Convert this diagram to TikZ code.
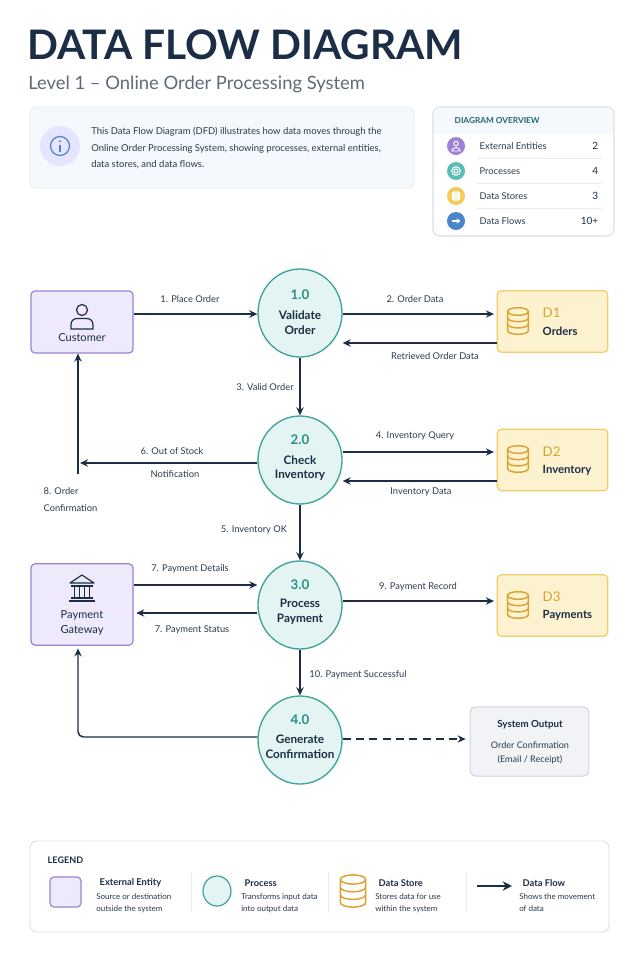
\documentclass[tikz,border=0pt]{standalone}
\usepackage{fontspec}
\setmainfont{Lato}
\usetikzlibrary{arrows.meta,calc,shapes.geometric}
\definecolor{navy}{HTML}{1B2E45}
\definecolor{txt}{HTML}{2B3A4D}
\definecolor{sub}{HTML}{5F6B78}
\definecolor{tealB}{HTML}{3FA39A}
\definecolor{tealF}{HTML}{E3F4F2}
\definecolor{tealT}{HTML}{2A8F88}
\definecolor{purB}{HTML}{9C82D2}
\definecolor{purF}{HTML}{EFEAFB}
\definecolor{yelB}{HTML}{F0CD6A}
\definecolor{yelF}{HTML}{FDF2D0}
\definecolor{yelI}{HTML}{D9A42E}
\definecolor{grB}{HTML}{CFD6DE}
\definecolor{grF}{HTML}{F1F3F7}
\definecolor{infoF}{HTML}{F5F8FC}
\definecolor{infoB}{HTML}{E6ECF3}
\definecolor{blueI}{HTML}{4A84C9}
\definecolor{purI}{HTML}{9E82D6}
\definecolor{tealI}{HTML}{5BBDB3}
\definecolor{yelO}{HTML}{F3CB55}
\newcommand\dbicon[4]{% x y color scale
  \begin{scope}[shift={(#1,#2)},scale=#4]
  \draw[#3,line width=1.1pt] (-11,-10) -- (-11,10) arc[start angle=180,end angle=0,x radius=11,y radius=4] -- (11,-10);
  \draw[#3,line width=1.1pt] (0,-10) ellipse[x radius=11,y radius=4];
  \draw[#3,line width=1.1pt] (-11,-3.3) arc[start angle=180,end angle=0,x radius=11,y radius=4];
  \draw[#3,line width=1.1pt] (-11,3.3) arc[start angle=180,end angle=0,x radius=11,y radius=4];
  \end{scope}}
\begin{document}
\begin{tikzpicture}[x=0.75pt,y=-0.75pt,
  flow/.style={draw=navy,line width=1.1pt,-{Stealth[length=6pt,width=5.5pt]}},
  lab/.style={font=\fontsize{7}{8}\selectfont,text=txt,inner sep=1pt},
  ent/.style={draw=purB,fill=purF,line width=0.9pt,rounded corners=3pt,minimum width=76.5pt},
  proc/.style={ellipse,draw=tealB,fill=tealF,line width=1pt,minimum width=63pt,minimum height=66pt,inner sep=0pt},
  store/.style={draw=yelB,fill=yelF,line width=0.9pt,rounded corners=3pt,minimum width=83pt,minimum height=46pt},
  ptxt/.style={font=\bfseries\fontsize{8.8}{11}\selectfont,text=navy,align=center},
  pnum/.style={font=\bfseries\fontsize{10}{11}\selectfont,text=tealT},
  snum/.style={font=\fontsize{10}{11}\selectfont,text=yelI,anchor=west},
  sname/.style={font=\bfseries\fontsize{8.5}{10}\selectfont,text=navy,anchor=west},
  ovl/.style={font=\fontsize{7}{8}\selectfont,text=txt,anchor=west},
  ovn/.style={font=\fontsize{7.5}{8}\selectfont,text=navy,anchor=east},
  lgt/.style={font=\bfseries\fontsize{7}{8}\selectfont,text=navy,anchor=west},
  lgd/.style={font=\fontsize{6}{9}\selectfont,text=txt,anchor=north west,align=left,inner sep=0pt}
]
\useasboundingbox[fill=white] (0,0) rectangle (640,960);
% title
\node[anchor=base west,inner sep=0pt,font=\fontsize{30.5}{31}\selectfont\bfseries,text=navy] (title) at (27,59) {DATA FLOW DIAGRAM};
\node[anchor=base west,inner sep=0pt,font=\fontsize{13.8}{15}\selectfont,text=sub] (subt) at (28,89) {Level 1 – Online Order Processing System};
% info box
\draw[draw=infoB,fill=infoF,rounded corners=5pt,line width=0.6pt] (30,107) rectangle (414,188);
\fill[blue!10] (60,146) circle (20);
\draw[blueI,line width=0.9pt] (60,146) circle (9.5);
\fill[blueI] (60,141.3) circle (1.1);
\draw[blueI,line width=1.1pt] (60,144.5) -- (60,151.5);
\node[anchor=north west,inner sep=0pt,align=left,font=\fontsize{7.1}{12.3}\selectfont,text=txt] (info) at (91,127) {This Data Flow Diagram (DFD) illustrates how data moves through the\\Online Order Processing System, showing processes, external entities,\\data stores, and data flows.};
% overview
\draw[draw=grB!80,fill=white,rounded corners=5pt,line width=0.8pt] (433,107) rectangle (614,236);
\fill[infoF,rounded corners=5pt] (434,108) rectangle (613,134);
\fill[infoF] (434,125) rectangle (613,134);
\node[anchor=west,font=\bfseries\fontsize{6.2}{7}\selectfont,text=tealT!60!navy] (ovh) at (450,121) {DIAGRAM OVERVIEW};
\foreach \y in {158.5,183.5,208.5} \draw[infoB,line width=0.6pt] (477,\y) -- (602,\y);
\fill[purI] (456,146) circle (9);
\draw[white,line width=0.7pt] (456,143.5) circle (2.3) (452,151) .. controls (452,146.5) and (460,146.5) .. (460,151) -- cycle;
\fill[tealI] (456,171) circle (9);
\draw[white,line width=0.8pt] (456,171) circle (2) (456,171) circle (4.3);
\fill[yelO] (456,196) circle (9);
\dbicon{456}{196}{white}{0.3}
\fill[blueI] (456,221) circle (9);
\draw[white,line width=0.8pt,-{Stealth[length=3pt,width=4pt]}] (451.5,221) -- (460.5,221);
\node[ovl] at (475,146) {External Entities}; \node[ovn] at (603,146) {2};
\node[ovl] at (475,171) {Processes}; \node[ovn] at (603,171) {4};
\node[ovl] at (475,196) {Data Stores}; \node[ovn] at (603,196) {3};
\node[ovl] at (475,221) {Data Flows}; \node[ovn] at (603,221) {10+};
% entities
\node[ent,minimum height=46.5pt] (cust) at (82,322) {};
\draw[navy,line width=0.9pt] (82,310) circle (5.5) (71,329) -- (71,325) .. controls (71,320) and (74,318.5) .. (78,318.5) -- (86,318.5) .. controls (90,318.5) and (93,320) .. (93,325) -- (93,329) -- cycle;
\node[font=\fontsize{8.3}{10}\selectfont,text=navy] at (82,338) {Customer};
\node[ent,minimum height=61pt] (gate) at (82,604.5) {};
\begin{scope}[navy,line width=0.9pt]
\draw[line join=round] (70,583) -- (82,575) -- (94,583) -- cycle;
\draw (71,586) -- (93,586) (71,598) -- (93,598) (69,601) -- (95,601);
\draw (74.5,586) -- (74.5,598) (79.5,586) -- (79.5,598) (84.5,586) -- (84.5,598) (89.5,586) -- (89.5,598);
\end{scope}
\node[font=\fontsize{8.3}{11}\selectfont,text=navy,align=center] at (82,623) {Payment\\Gateway};
% processes
\node[proc] (p1) at (300,313) {}; \node[pnum] at (300,295) {1.0}; \node[ptxt] at (300,323) {Validate\\Order};
\node[proc] (p2) at (300,460) {}; \node[pnum] at (300,440) {2.0}; \node[ptxt] at (300,468) {Check\\Inventory};
\node[proc] (p3) at (300,605) {}; \node[pnum] at (300,585) {3.0}; \node[ptxt] at (300,612) {Process\\Payment};
\node[proc] (p4) at (300,740) {}; \node[pnum] at (300,720) {4.0}; \node[ptxt] at (300,747) {Generate\\Confirmation};
% stores
\node[store] (d1) at (552.5,321.5) {}; \dbicon{518}{321}{yelI}{0.95}
\node[snum] at (538,313) {D1}; \node[sname] at (538,331) {Orders};
\node[store] (d2) at (552.5,460) {}; \dbicon{518}{459}{yelI}{0.95}
\node[snum] at (538,452) {D2}; \node[sname] at (538,470) {Inventory};
\node[store] (d3) at (552.5,605.5) {}; \dbicon{518}{605}{yelI}{0.95}
\node[snum] at (538,597) {D3}; \node[sname] at (538,615) {Payments};
% system output
\node[draw=grB,fill=grF,line width=0.8pt,rounded corners=4pt,minimum width=89pt,minimum height=52pt] (sys) at (529.5,741.5) {};
\node[font=\bfseries\fontsize{7.3}{9}\selectfont,text=navy] at (530,725) {System Output};
\node[font=\fontsize{6.8}{10.5}\selectfont,text=txt,align=center] at (530,753) {Order Confirmation\\(Email / Receipt)};
% flows
\draw[flow] (cust.east |- 0,314) -- (p1.west |- 0,314);
\node[lab] at (190,299) {1. Place Order};
\draw[flow] (p1.east |- 0,314) -- ([xshift=-2pt]d1.west |- 0,314);
\node[lab] at (415,299) {2. Order Data};
\draw[flow] (d1.west |- 0,343) -- (p1.east |- 0,343);
\node[lab] at (435,356) {Retrieved Order Data};
\draw[flow] (p1.south) -- (p2.north);
\node[lab] at (265,387) {3. Valid Order};
\draw[flow] (p2.east |- 0,452) -- ([xshift=-2pt]d2.west |- 0,452);
\node[lab] at (415,436) {4. Inventory Query};
\draw[flow] (d2.west |- 0,481) -- (p2.east |- 0,481);
\node[lab] at (421,492) {Inventory Data};
\coordinate (c6) at (80,463);
\draw[flow] (p2.west |- 0,463) -- (c6);
\node[lab] at (172,451) {6. Out of Stock};
\node[lab] at (175,474) {Notification};
\coordinate (c8) at (78,474);
\draw[flow] (c8) -- (cust.south -| c8);
\node[lab,align=left,anchor=west,font=\fontsize{7}{12.5}\selectfont] at (42,499.5) {8. Order\\Confirmation};
\draw[flow] (p2.south) -- (p3.north);
\node[lab] at (254,530) {5. Inventory OK};
\draw[flow] (gate.east |- 0,585) -- (p3.west |- 0,585);
\node[lab] at (190,569) {7. Payment Details};
\draw[flow] (p3.west |- 0,613) -- ([xshift=2pt]gate.east |- 0,613);
\node[lab] at (192,630) {7. Payment Status};
\draw[flow] (p3.east |- 0,601) -- ([xshift=-2pt]d3.west |- 0,601);
\node[lab] at (418,587) {9. Payment Record};
\draw[flow] (p3.south) -- (p4.north);
\node[lab] at (358,675) {10. Payment Successful};
\draw[flow,rounded corners=4pt] (p4.west |- 0,737) -- (78,737) -- ([yshift=-2pt]gate.south -| 78,0);
\draw[flow,dashed,dash pattern=on 6pt off 4pt] (p4.east |- 0,739) -- ([xshift=-3pt]sys.west |- 0,739);
% legend
\draw[draw=grB!80,fill=white,rounded corners=5pt,line width=0.7pt] (30,841) rectangle (609,932);
\node[anchor=west,font=\bfseries\fontsize{6.8}{8}\selectfont,text=navy] (lg) at (43,860) {LEGEND};
\foreach \x in {191,328,466} \draw[infoB,line width=0.6pt] (\x,872) -- (\x,912);
\draw[purB,fill=purF,line width=0.9pt,rounded corners=3pt] (50,877) rectangle (81,907);
\node[lgt] at (95,883) {External Entity};
\node[lgd] at (96,893) {Source or destination\\outside the system};
\draw[tealB,fill=tealF,line width=0.9pt] (217,891) ellipse[x radius=14,y radius=15];
\node[lgt] at (240,883) {Process};
\node[lgd] at (241,893) {Transforms input data\\into output data};
\dbicon{353}{891}{yelI}{1.15}
\node[lgt] at (374,883) {Data Store};
\node[lgd] at (375,893) {Stores data for use\\within the system};
\coordinate (la) at (477,886); \coordinate (lb) at (512,886);
\draw[navy,line width=1.6pt,-{Stealth[length=7pt,width=7pt]}] (la) -- (lb);
\node[lgt] at (518,883) {Data Flow};
\node[lgd] at (519,893) {Shows the movement\\of data};
\end{tikzpicture}
\end{document}
